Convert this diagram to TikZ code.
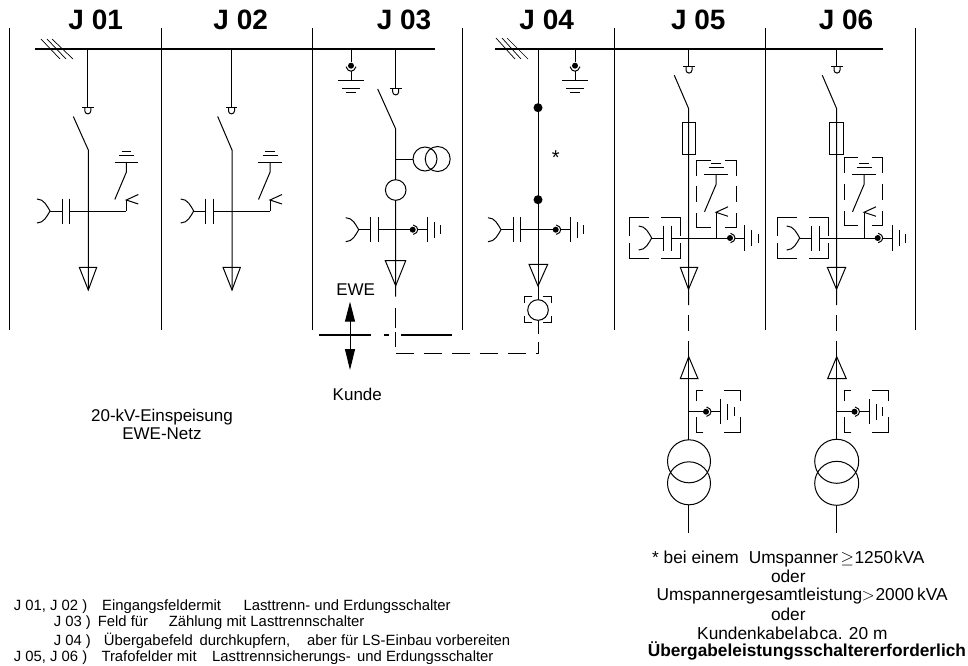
\documentclass[tikz,border=0pt]{standalone}
\usepackage{fontspec}
\setmainfont{Liberation Sans}
\usetikzlibrary{arrows.meta}
\tikzset{
  pics/contact/.style={code={
    \draw (-5.8,0) -- (5.8,0);
    \draw (-3,0) -- (-3,3.4) arc[start angle=180,end angle=360,radius=3pt] -- (3,0);
  }},
  pics/capend/.style={code={
    \draw (-13,-12) .. controls (-6,-12) and (-3,-5) .. (0,0) .. controls (-3,5) and (-6,12) .. (-13,12);
    \draw (0,0) -- (12,0);
    \draw (12,-12.5) -- (12,12.5);
    \draw (19.7,-12.5) -- (19.7,12.5);
  }},
  pics/plugearth/.style={code={
    \fill (0,0) circle[radius=3pt];
    \draw (0.5,-4.7) .. controls (3.5,-4) and (5,-2) .. (5,0) .. controls (5,2) and (3.5,4) .. (0.5,4.7);
    \draw (5,0) -- (14.6,0);
    \draw (14.6,-12.6) -- (14.6,12.6);
    \draw (21.6,-8) -- (21.6,8);
    \draw (28,-4.5) -- (28,4.5);
  }},
  pics/topearth/.style={code={
    \fill (0,0) circle[radius=3pt];
    \draw (-5,1) .. controls (-4,4) and (-2,5.5) .. (0,5.5) .. controls (2,5.5) and (4,4) .. (5,1);
    \draw (0,5.5) -- (0,14.3);
    \draw (-12.8,14.3) -- (12.8,14.3);
    \draw (-8.8,22.6) -- (8.8,22.6);
    \draw (-4.8,26.6) -- (4.8,26.6);
  }},
  pics/earthsw/.style={code={
    \draw (-11.7,0) -- (11.7,0);
    \draw (-7.5,-6.5) -- (7.5,-6.5);
    \draw (-4.7,-11) -- (4.7,-11);
    \draw (0,0) -- (0,10.3) -- (-11.5,37.5);
    \draw (12,32.5) -- (0,38) -- (12,42);
    \coordinate (-tip) at (0,38);
  }},
  pics/cornerbox/.style n args={6}{code={
    \draw (#3,0) -- (0,0) -- (0,#5);
    \draw (#1-#4,0) -- (#1,0) -- (#1,#5);
    \draw (#3,#2) -- (0,#2) -- (0,#2-#6);
    \draw (#1-#4,#2) -- (#1,#2) -- (#1,#2-#6);
  }}
}
\begin{document}
\begin{tikzpicture}[x=1pt,y=-1pt,line width=1pt,
  title/.style={font=\bfseries\fontsize{28}{30}\selectfont,inner sep=0pt},
  txt/.style={font=\fontsize{17}{19}\selectfont,inner sep=0pt},
  note/.style={font=\fontsize{14.85}{16}\selectfont,inner sep=0pt,anchor=base west},
  big/.style={font=\fontsize{17.3}{19}\selectfont,inner sep=0pt,anchor=base west},
  bus/.style={line width=2pt},
  dashline/.style={dash pattern=on 18pt off 10pt}]
\useasboundingbox (0,0) rectangle (968,665);
% field titles
\node[title] (j01) at (95.7,19.7) {J 01};
\node[title] (j02) at (240.7,19.7) {J 02};
\node[title] (j03) at (404,19.7) {J 03};
\node[title] (j04) at (546.7,19.7) {J 04};
\node[title] (j05) at (698.3,19.7) {J 05};
\node[title] (j06) at (846,19.7) {J 06};
% field borders
\draw (9,28) -- (9,330);
\draw (161,28) -- (161,330);
\draw (312.5,28) -- (312.5,330);
\draw (462.7,28) -- (462.7,330);
\draw (614,28) -- (614,330);
\draw (765.4,28) -- (765.4,330);
\draw (915.7,28) -- (915.7,330);
% busbars
\draw[bus] (35,49) -- (435,49);
\draw[bus] (495,49) -- (883,49);
\draw[line width=0.7pt] (41,39) -- (60,59);
\draw[line width=0.7pt] (47,39) -- (66,59);
\draw[line width=0.7pt] (52,39) -- (73,59);
\draw[line width=0.7pt] (496,38) -- (515,59);
\draw[line width=0.7pt] (502,38) -- (521,59);
\draw[line width=0.7pt] (507,38) -- (528,59);
% J 01
\begin{scope}
\draw (87.3,49) -- (87.3,107.5);
\pic at (87.8,107.5) {contact};
\draw (73.3,116.5) -- (88.3,150) -- (88.3,290);
\draw (79.3,267.3) -- (96.7,267.3) -- (88.3,290) -- cycle;
\pic at (50,211) {capend};
\draw (69.7,211) -- (126.3,211);
\pic (es) at (126.3,162) {earthsw};
\draw (es-tip) -- (126.3,211);
\end{scope}
% J 02
\begin{scope}[xshift=143.7pt]
\draw (87.8,49) -- (87.8,107.5);
\pic at (87.8,107.5) {contact};
\draw (74,116.5) -- (88.3,150) -- (88.3,290);
\draw (79.3,267.3) -- (96.7,267.3) -- (88.3,290) -- cycle;
\pic at (50,211) {capend};
\draw (69.7,211) -- (126.3,211);
\pic (es) at (126.3,162) {earthsw};
\draw (es-tip) -- (126.3,211);
\end{scope}
% J 03
\begin{scope}
\draw (351,49) -- (351,62);
\pic at (351,65.7) {topearth};
\draw (395.7,49) -- (395.7,88);
\pic at (395.7,88.5) {contact};
\draw (377.7,89) -- (395.7,129) -- (395.7,296.7);
\draw (395.7,159) -- (413,159);
\draw (425,159) circle[radius=12pt];
\draw (437.7,159) circle[radius=12.5pt];
\draw[fill=white] (395.7,190) circle[radius=10.3pt];
\draw (385.3,260.7) -- (405.7,260.7) -- (395.7,285.7) -- cycle;
\pic at (358.7,229.7) {capend};
\draw (378.4,229.7) -- (412.7,229.7);
\pic at (412.7,229.7) {plugearth};
\node[txt] (ewe) at (355.7,290) {EWE};
\node[txt] (kunde) at (357.3,394) {Kunde};
\coordinate (up) at (350,301.7);
\coordinate (down) at (350,370);
\draw[{Triangle[length=20pt,width=10pt]}-{Triangle[length=21pt,width=10pt]}] (up) -- (down);
\draw[bus] (319.3,335) -- (370.7,335);
\draw[bus] (383.7,335) -- (389,335);
\draw[bus] (401,335) -- (451.7,335);
\draw (395.7,308) -- (395.7,328);
\draw (395.7,331.7) -- (395.7,346.7);
\end{scope}
% J 04
\begin{scope}
\draw (538,49) -- (538,334.3);
\fill (538,107.7) circle[radius=4.5pt];
\fill (538,199.7) circle[radius=4.5pt];
\node[font=\fontsize{20}{22}\selectfont,inner sep=0pt] (star) at (555.7,158) {*};
\pic at (575,65.7) {topearth};
\draw (575,49) -- (575,62);
\draw (529,264.3) -- (547.7,264.3) -- (538,286) -- cycle;
\pic at (501,229.7) {capend};
\draw (520.7,229.7) -- (555.7,229.7);
\pic at (555.7,229.7) {plugearth};
\pic at (524.3,296) {cornerbox={26.7}{26.7}{8}{8}{7}{7}};
\draw[fill=white] (538,310) circle[radius=10.3pt];
\draw[dashline] (395.7,353.3) -- (538.3,353.3) -- (538.3,341.7);
\end{scope}
% J 05
\begin{scope}
\draw (688.7,49) -- (688.7,66.7);
\pic at (689,66.7) {contact};
\draw (674.3,75.3) -- (688.5,108.3) -- (688.5,305);
\draw (682.3,122.3) rectangle (695.7,154.3);
\pic at (696.7,160) {cornerbox={39.3}{67.7}{14}{11}{15.7}{14.3}};
\draw (696.7,186) -- (696.7,202.3);
\draw (736,186) -- (736,202.3);
\pic (es) at (716,174.3) {earthsw};
\draw (es-tip) -- (716,238);
\pic at (651.7,238) {capend};
\draw (671.4,238) -- (730,238);
\pic at (730,238) {plugearth};
\pic at (629.3,217) {cornerbox={50.7}{41.3}{20}{19}{19}{15}};
\draw (680.3,267.3) -- (697.7,267.3) -- (688.5,289.3) -- cycle;
\draw (688.7,315) -- (688.7,330.7);
\draw (688.7,340.7) -- (688.7,440);
\draw (680.3,378.7) -- (698,378.7) -- (688.7,356.7) -- cycle;
\draw (688.7,411.7) -- (706,411.7);
\pic at (706,411.7) {plugearth};
\pic at (696.3,390.7) {cornerbox={44.4}{41.6}{7}{16.7}{10}{15}};
\draw (689,461.3) circle[radius=21.5pt];
\draw (689,483.3) circle[radius=21.5pt];
\draw (688.7,505.3) -- (688.7,532.7);
\end{scope}
% J 06
\begin{scope}[xshift=148pt]
\draw (688.7,49) -- (688.7,66.7);
\pic at (689,66.7) {contact};
\draw (674.3,75.3) -- (688.5,108.3) -- (688.5,305);
\draw (681.3,122.3) rectangle (695.3,154.3);
\pic at (696.3,157.7) {cornerbox={38.4}{67.3}{14}{11}{15.7}{14.3}};
\draw (696.3,184) -- (696.3,200);
\draw (734.7,184) -- (734.7,200);
\pic (es) at (716,174.3) {earthsw};
\draw (es-tip) -- (716,238);
\pic at (651.7,238) {capend};
\draw (671.4,238) -- (730,238);
\pic at (729.7,238) {plugearth};
\pic at (629.3,217) {cornerbox={50.7}{41.3}{20}{19}{19}{15}};
\draw (679.3,267.3) -- (697.7,267.3) -- (688.5,289.3) -- cycle;
\draw (688.7,315) -- (688.7,330.7);
\draw (688.7,340.7) -- (688.7,440);
\draw (679.6,378.7) -- (698.3,378.7) -- (688.7,356.7) -- cycle;
\draw (688.7,411.7) -- (706.5,411.7);
\pic at (706.5,411.7) {plugearth};
\pic at (696.3,390.7) {cornerbox={44.4}{41.6}{7}{16.7}{10}{15}};
\draw (688.7,461.3) circle[radius=22pt];
\draw (688.7,483.3) circle[radius=22pt];
\draw (688.7,505.3) -- (688.7,532.7);
\end{scope}
% texts
\node[txt] (einsp) at (162,417) {20-kV-Einspeisung};
\node[txt] (netz) at (162,434) {EWE-Netz};
\node[note] (a1) at (13.3,610) {J 01, J 02 )};
\node[note] (a2) at (101.7,610) {Eingangsfeldermit};
\node[note] (a3) at (243,610) {Lasttrenn- und Erdungsschalter};
\node[note] (b1) at (53.3,626.7) {J 03 )};
\node[note] (b2) at (97.3,626.7) {Feld für};
\node[note] (b3) at (168.3,626.7) {Zählung mit Lasttrennschalter};
\node[note] (c1) at (53.3,645) {J 04 )};
\node[note] (c2) at (103.3,645) {Übergabefeld};
\node[note] (c3) at (199,645) {durchkupfern,};
\node[note] (c4) at (306.7,645) {aber für LS-Einbau vorbereiten};
\node[note] (d1) at (13.3,661.7) {J 05, J 06 )};
\node[note] (d2) at (101,661.7) {Trafofelder mit};
\node[note] (d3) at (211.7,661.7) {Lasttrennsicherungs-};
\node[note] (d4) at (356.7,661.7) {und Erdungsschalter};
\node[big] (s1) at (651.7,563.3) {* bei einem};
\node[big] (s2) at (748.3,563.3) {Umspanner};
\node[big] (s3) at (840,563.3) {$\geq$};
\node[big] (s4) at (854,563.3) {1250};
\node[big] (s5) at (893.5,563.3) {kVA};
\node[big,anchor=base] (o1) at (788.3,582.3) {oder};
\node[big] (u1) at (656,600.7) {Umspannergesamtleistung};
\node[big] (u2) at (861,600.7) {$>$};
\node[big] (u3) at (875,600.7) {2000};
\node[big] (u4) at (916.7,600.7) {kVA};
\node[big,anchor=base] (o2) at (788.3,620) {oder};
\node[big] (k1) at (696.7,639.3) {Kundenkabel};
\node[big] (k2) at (798.7,639.3) {ab};
\node[big] (k3) at (819,639.3) {ca. 20 m};
\node[big,font=\bfseries\fontsize{17.3}{19}\selectfont] (sw) at (647.3,656.7) {Übergabeleistungsschaltererforderlich};
\end{tikzpicture}
\end{document}
